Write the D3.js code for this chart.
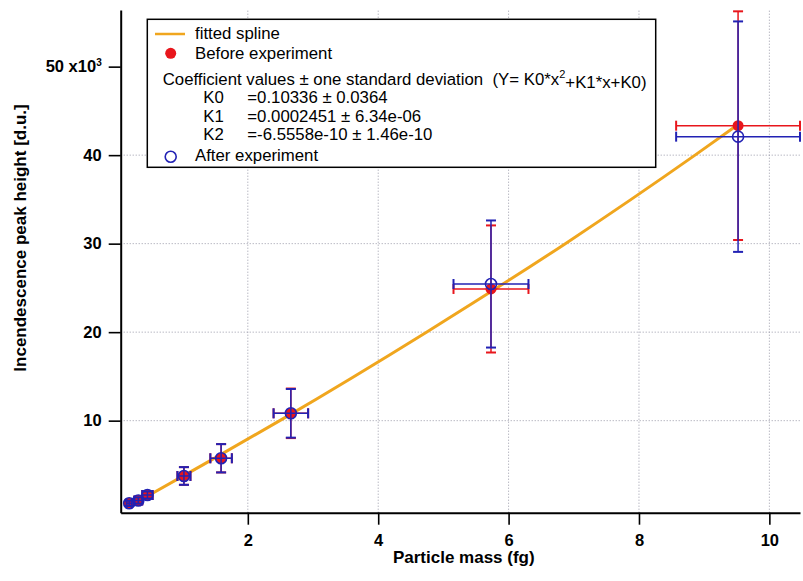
<!DOCTYPE html>
<html lang="en">
<head>
    <meta charset="UTF-8">
    <title>Incendescence peak height vs particle mass</title>
    <script src="https://d3js.org/d3.v7.min.js"></script>
    <style>
        body {
            margin: 0;
            padding: 0;
            background: #fff;
        }
        svg {
            display: block;
            font-family: "Liberation Sans", Arial, Helvetica, sans-serif;
        }
        .axis path, .axis line {
            stroke: #000;
        }
        .axis path {
            stroke-width: 2px;
        }
        .axis line {
            stroke-width: 1.6px;
        }
        .axis text {
            font-family: "Liberation Sans", Arial, sans-serif;
            font-size: 16.5px;
            font-weight: bold;
            fill: #000;
        }
        .axisTitle {
            font-size: 17px;
            font-weight: bold;
        }
        .grid {
            stroke: #9a9aa8;
            stroke-width: 1px;
            stroke-dasharray: 1, 2;
        }
        .spline {
            fill: none;
            stroke: #f0a61e;
            stroke-width: 3px;
        }
        .legendText {
            font-size: 16.8px;
            white-space: pre;
        }
    </style>
</head>
<body>
    <div id="canvas"></div>
    <script>
        // data (heights in units of 10^3 d.u.)
        var mass = [0.18, 0.32, 0.46, 1.02, 1.59, 2.66, 5.73, 9.52];
        var massErr = [0.04, 0.06, 0.08, 0.10, 0.165, 0.265, 0.575, 0.95];
        var heightBefore = [0.66, 0.98, 1.60, 3.75, 5.75, 10.83, 24.88, 43.33];
        var errBefore = [0.3, 0.35, 0.4, 1.0, 1.6, 2.8, 7.18, 12.92];
        var heightAfter = [0.66, 0.98, 1.60, 3.75, 5.75, 10.83, 25.44, 42.09];
        var errAfter = [0.3, 0.35, 0.4, 1.0, 1.6, 2.75, 7.18, 13.02];

        // points along the fitted spline
        var splineMass = [0.25, 1.31, 2.49, 4.74, 6.87, 8.86, 9.51];
        var splineHeight = [0.6, 5, 10, 20, 30, 40, 43.4];

        var xTicks = [2, 4, 6, 8, 10];
        var yTicks = [10, 20, 30, 40, 50];
        var yGrid = [10, 20, 30, 40];

        var coefNames = ["K0", "K1", "K2"];
        var coefValues = ["=0.10336 \u00b1 0.0364", "=0.0002451 \u00b1 6.34e-06", "=-6.5558e-10 \u00b1 1.46e-10"];

        var red = "#e8161c",
            blue = "#2222b4";

        var W = 803, H = 581;
        var margin = {top: 10, right: 3, bottom: 68.3, left: 120.7};

        var svg = d3.select("#canvas")
            .append("svg")
            .attr("width", W)
            .attr("height", H);

        var x = d3.scaleLinear()
            .domain([0.05, 10.47])
            .range([margin.left, W - margin.right]);

        var y = d3.scaleLinear()
            .domain([-0.4, 56.4])
            .range([H - margin.bottom, margin.top]);

        // grid lines
        svg.append("g").selectAll("line")
            .data(xTicks)
            .enter().append("line")
            .attr("class", "grid")
            .attr("x1", function(d) { return x(d); })
            .attr("x2", function(d) { return x(d); })
            .attr("y1", y.range()[0])
            .attr("y2", y.range()[1]);

        svg.append("g").selectAll("line")
            .data(yGrid)
            .enter().append("line")
            .attr("class", "grid")
            .attr("x1", x.range()[0])
            .attr("x2", x.range()[1])
            .attr("y1", function(d) { return y(d); })
            .attr("y2", function(d) { return y(d); });

        // axes
        svg.append("g")
            .attr("class", "axis")
            .attr("transform", "translate(0," + y.range()[0] + ")")
            .call(d3.axisBottom(x).tickValues(xTicks).tickSize(12).tickSizeOuter(0).tickPadding(10).tickFormat(d3.format("d")));

        var yAxisG = svg.append("g")
            .attr("class", "axis")
            .attr("transform", "translate(" + x.range()[0] + ",0)")
            .call(d3.axisLeft(y).tickValues(yTicks).tickSize(12).tickSizeOuter(0).tickPadding(7).tickFormat(d3.format("d")));

        yAxisG.selectAll(".tick text")
            .filter(function(d) { return d === 50; })
            .text(null)
            .each(function() {
                var t = d3.select(this);
                t.append("tspan").text("50 x10");
                t.append("tspan").attr("dy", "-0.6em").style("font-size", "10px").text("3");
            });

        // axis titles
        svg.append("text")
            .attr("class", "axisTitle")
            .attr("x", 463.8)
            .attr("y", 563)
            .attr("text-anchor", "middle")
            .text("Particle mass (fg)");

        svg.append("text")
            .attr("class", "axisTitle")
            .attr("transform", "translate(25.5,238) rotate(-90)")
            .attr("text-anchor", "middle")
            .text("Incendescence peak height [d.u.]");

        // fitted spline
        var splinePts = splineMass.map(function(m, i) { return [m, splineHeight[i]]; });
        svg.append("path")
            .datum(splinePts)
            .attr("class", "spline")
            .attr("d", d3.line()
                .x(function(d) { return x(d[0]); })
                .y(function(d) { return y(d[1]); })
                .curve(d3.curveMonotoneX));

        // error bars with caps
        function drawErrors(heights, errs, color) {
            var g = svg.append("g")
                .attr("stroke", color)
                .attr("fill", "none");
            var cap = 5;
            mass.forEach(function(m, i) {
                var cx = x(m), cy = y(heights[i]);
                var yt = y(heights[i] + errs[i]), yb = y(heights[i] - errs[i]);
                var xl = x(m - massErr[i]), xr = x(m + massErr[i]);
                g.append("line").attr("x1", cx).attr("x2", cx).attr("y1", yt).attr("y2", yb).attr("stroke-width", 1.5);
                g.append("line").attr("x1", xl).attr("x2", xr).attr("y1", cy).attr("y2", cy).attr("stroke-width", 1.5);
                g.append("line").attr("x1", cx - cap).attr("x2", cx + cap).attr("y1", yt).attr("y2", yt).attr("stroke-width", 2);
                g.append("line").attr("x1", cx - cap).attr("x2", cx + cap).attr("y1", yb).attr("y2", yb).attr("stroke-width", 2);
                g.append("line").attr("x1", xl).attr("x2", xl).attr("y1", cy - cap).attr("y2", cy + cap).attr("stroke-width", 2);
                g.append("line").attr("x1", xr).attr("x2", xr).attr("y1", cy - cap).attr("y2", cy + cap).attr("stroke-width", 2);
            });
        }

        drawErrors(heightBefore, errBefore, red);

        svg.append("g").selectAll("circle")
            .data(mass)
            .enter().append("circle")
            .attr("cx", function(d) { return x(d); })
            .attr("cy", function(d, i) { return y(heightBefore[i]); })
            .attr("r", 5.5)
            .attr("fill", red);

        drawErrors(heightAfter, errAfter, blue);

        svg.append("g").selectAll("circle")
            .data(mass)
            .enter().append("circle")
            .attr("cx", function(d) { return x(d); })
            .attr("cy", function(d, i) { return y(heightAfter[i]); })
            .attr("r", 5.5)
            .attr("fill", "none")
            .attr("stroke", blue)
            .attr("stroke-width", 1.6);

        // legend
        var legend = svg.append("g");

        legend.append("rect")
            .attr("x", 147.3)
            .attr("y", 19.3)
            .attr("width", 508.4)
            .attr("height", 148)
            .attr("fill", "#fff")
            .attr("stroke", "#000")
            .attr("stroke-width", 1.5);

        legend.append("line")
            .attr("x1", 155).attr("x2", 185)
            .attr("y1", 34).attr("y2", 34)
            .attr("stroke", "#f0a61e")
            .attr("stroke-width", 2.5);

        legend.append("text")
            .attr("class", "legendText")
            .attr("x", 195).attr("y", 39)
            .text("fitted spline");

        legend.append("circle")
            .attr("cx", 170.7).attr("cy", 53.3)
            .attr("r", 5.5)
            .attr("fill", red);

        legend.append("text")
            .attr("class", "legendText")
            .attr("x", 195).attr("y", 58.5)
            .text("Before experiment");

        var coefTitle = legend.append("text")
            .attr("class", "legendText")
            .attr("x", 162.7).attr("y", 85);
        coefTitle.append("tspan").text("Coefficient values \u00b1 one standard deviation  (Y= K0*x");
        coefTitle.append("tspan").attr("dy", "-0.6em").style("font-size", "11px").text("2");
        coefTitle.append("tspan").attr("dy", "0.6em").text("+K1*x+K0)");

        var rowY = [102.7, 121.7, 140];
        coefNames.forEach(function(k, i) {
            legend.append("text")
                .attr("class", "legendText")
                .attr("x", 203.3).attr("y", rowY[i])
                .text(k);
            legend.append("text")
                .attr("class", "legendText")
                .attr("x", 247.3).attr("y", rowY[i])
                .text(coefValues[i]);
        });

        legend.append("circle")
            .attr("cx", 170.7).attr("cy", 156.7)
            .attr("r", 5.5)
            .attr("fill", "none")
            .attr("stroke", blue)
            .attr("stroke-width", 1.6);

        legend.append("text")
            .attr("class", "legendText")
            .attr("x", 195).attr("y", 160.5)
            .text("After experiment");
    </script>
</body>
</html>
